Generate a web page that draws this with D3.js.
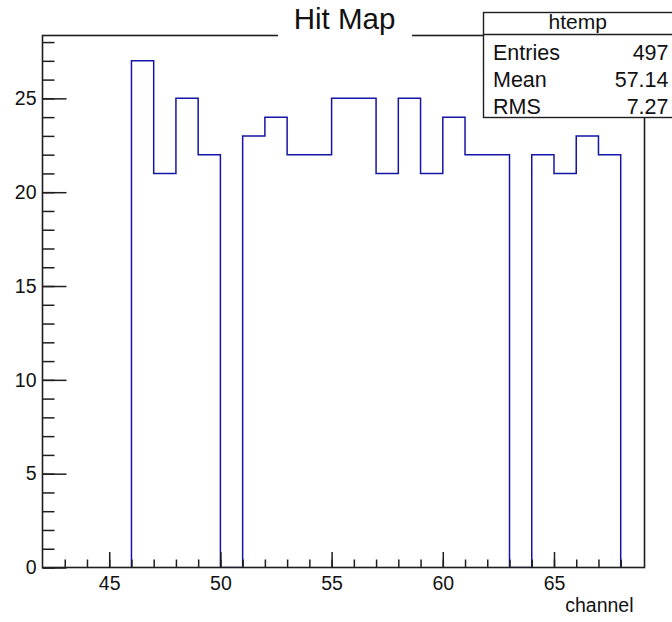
<!DOCTYPE html>
<html>
<head>
<meta charset="utf-8">
<script src="https://cdn.jsdelivr.net/npm/d3@7"></script>
<style>
  html, body { margin: 0; padding: 0; background: #fff; }
  svg { display: block; font-family: "Liberation Sans", Arial, Helvetica, sans-serif; }
</style>
</head>
<body>
<svg id="chart" width="672" height="622"></svg>
<script>
// Histogram bins: lower edge of each channel bin (width 1) and its count
const binLow = [46, 47, 48, 49, 50, 51, 52, 53, 54, 55, 56, 57, 58, 59, 60, 61, 62, 63, 64, 65, 66, 67];
const counts = [27, 21, 25, 22, 0, 23, 24, 22, 22, 25, 25, 21, 25, 21, 24, 22, 22, 0, 22, 21, 23, 22];
const binWidth = 1;

// Axis ticks
const xMajorTicks = [45, 50, 55, 60, 65];
const xMinorTicks = d3.range(43, 69);
const yMajorTicks = [0, 5, 10, 15, 20, 25];
const yMinorTicks = d3.range(0, 29);

// Statistics box
const statTitle = "htemp";
const statLabels = ["Entries", "Mean", "RMS"];
const statValues = ["497", "57.14", "7.27"];

const chartTitle = "Hit Map";
const xTitle = "channel";

const svg = d3.select("#chart");
const frame = { left: 42.5, right: 644.5, top: 35.5, bottom: 567.5 };

const x = d3.scaleLinear().domain([42, 69.07]).range([frame.left, frame.right]);
const y = d3.scaleLinear().domain([0, 28.35]).range([frame.bottom, frame.top]);

const ink = "#1e1e1e";
const lineBlue = "#1414a8";

// Keep the outline inside the frame so empty bins stay hidden under the axis
svg.append("defs").append("clipPath").attr("id", "plotArea")
  .append("rect")
  .attr("x", frame.left).attr("y", frame.top)
  .attr("width", frame.right - frame.left)
  .attr("height", frame.bottom - frame.top - 0.8);

// Histogram outline as a step line
const pts = [[binLow[0], 0]];
binLow.forEach((b, i) => pts.push([b, counts[i]]));
const last = binLow[binLow.length - 1] + binWidth;
pts.push([last, counts[counts.length - 1]]);
pts.push([last, 0]);

const step = d3.line()
  .x(d => x(d[0]))
  .y(d => y(d[1]))
  .curve(d3.curveStepAfter);

svg.append("path")
  .attr("d", step(pts))
  .attr("clip-path", "url(#plotArea)")
  .attr("fill", "none")
  .attr("stroke", lineBlue)
  .attr("stroke-width", 1.5);

// X axis: minor and major ticks pointing inward
const xMinor = d3.axisBottom(x).tickValues(xMinorTicks).tickSizeInner(-8).tickSizeOuter(0).tickFormat("");
const xMajor = d3.axisBottom(x).tickValues(xMajorTicks).tickSizeInner(-15.5).tickSizeOuter(0).tickPadding(8.5).tickFormat(d3.format("d"));

[xMinor, xMajor].forEach(ax => {
  const g = svg.append("g").attr("transform", `translate(0,${frame.bottom})`).call(ax);
  g.select(".domain").remove();
  g.selectAll(".tick line").attr("stroke", ink).attr("stroke-width", 1.5);
  g.selectAll(".tick text").attr("fill", "#111").style("font-size", "19.5px");
});

// Y axis: minor and major ticks pointing inward
const yMinor = d3.axisLeft(y).tickValues(yMinorTicks).tickSizeInner(-12).tickSizeOuter(0).tickFormat("");
const yMajor = d3.axisLeft(y).tickValues(yMajorTicks).tickSizeInner(-24).tickSizeOuter(0).tickPadding(6).tickFormat(d3.format("d"));

[yMinor, yMajor].forEach(ax => {
  const g = svg.append("g").attr("transform", `translate(${frame.left},0)`).call(ax);
  g.select(".domain").remove();
  g.selectAll(".tick line").attr("stroke", ink).attr("stroke-width", 1.5);
  g.selectAll(".tick text").attr("fill", "#111").style("font-size", "19.5px");
});

// Frame
svg.append("rect")
  .attr("x", frame.left).attr("y", frame.top)
  .attr("width", frame.right - frame.left).attr("height", frame.bottom - frame.top)
  .attr("fill", "none").attr("stroke", ink).attr("stroke-width", 1.6);

// X axis title
svg.append("text")
  .attr("x", 633.5).attr("y", 611.5)
  .attr("text-anchor", "end")
  .attr("fill", "#111")
  .style("font-size", "19.5px")
  .text(xTitle);

// Title on a white box over the frame edge
svg.append("rect")
  .attr("x", 278).attr("y", 0).attr("width", 134).attr("height", 37.5)
  .attr("fill", "#fff");
svg.append("text")
  .attr("x", 344.5).attr("y", 29.3)
  .attr("text-anchor", "middle")
  .attr("fill", "#111")
  .style("font-size", "29.5px")
  .text(chartTitle);

// Statistics box
const sb = { x: 483.5, y: 12.5, w: 200, h: 105, head: 34.5 };
svg.append("rect")
  .attr("x", sb.x).attr("y", sb.y).attr("width", sb.w).attr("height", sb.h)
  .attr("fill", "#fff").attr("stroke", ink).attr("stroke-width", 1.4);
svg.append("line")
  .attr("x1", sb.x).attr("x2", sb.x + sb.w)
  .attr("y1", sb.head).attr("y2", sb.head)
  .attr("stroke", ink).attr("stroke-width", 1.4);
svg.append("text")
  .attr("x", 577.8).attr("y", 29)
  .attr("text-anchor", "middle")
  .attr("fill", "#111")
  .style("font-size", "21px")
  .text(statTitle);

const rowBase = [60, 87, 114];
statLabels.forEach((lab, i) => {
  svg.append("text")
    .attr("x", 493).attr("y", rowBase[i])
    .attr("fill", "#111")
    .style("font-size", "21.5px")
    .text(lab);
  svg.append("text")
    .attr("x", 668.5).attr("y", rowBase[i])
    .attr("text-anchor", "end")
    .attr("fill", "#111")
    .style("font-size", "21.5px")
    .text(statValues[i]);
});
</script>
</body>
</html>
